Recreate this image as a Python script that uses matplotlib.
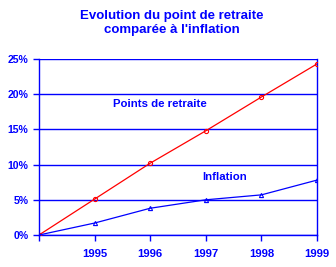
import matplotlib.pyplot as plt

# Données
annees = [1994, 1995, 1996, 1997, 1998, 1999]
etiquettes = ['', '1995', '1996', '1997', '1998', '1999']
points_retraite = [0.0, 5.1, 10.2, 14.8, 19.6, 24.3]
inflation = [0.0, 1.7, 3.8, 5.0, 5.7, 7.8]

bleu = '#0000ff'
rouge = '#ff0000'
plt.rcParams['font.family'] = ['Liberation Sans', 'DejaVu Sans']

fig = plt.figure(figsize=(3.36, 2.67), dpi=100)
ax = fig.add_axes([39 / 336, 1 - 235 / 267, 278 / 336, 176 / 267])

ax.plot(annees, points_retraite, color=rouge, lw=0.9, marker='o', ms=3,
        mfc='none', mec=rouge, mew=0.8, zorder=3)
ax.plot(annees, inflation, color=bleu, lw=0.9, marker='^', ms=3,
        mfc='none', mec=bleu, mew=0.8, zorder=3)

ax.set_xlim(1994, 1999)
ax.set_ylim(0, 25)
ax.set_yticks(range(0, 26, 5))
ax.set_yticklabels([f'{v}%' for v in range(0, 26, 5)])
ax.set_xticks(annees)
ax.set_xticklabels(etiquettes)
ax.yaxis.grid(True, color=bleu, lw=1)
ax.set_axisbelow(True)

ax.spines['top'].set_visible(False)
for s in ['left', 'right', 'bottom']:
    ax.spines[s].set_color(bleu)
    ax.spines[s].set_linewidth(1)

ax.tick_params(colors=bleu, labelcolor=bleu, labelsize=7.6, length=4, width=1)
ax.tick_params(axis='x', pad=6, labelsize=8.2)
for lab in ax.get_xticklabels() + ax.get_yticklabels():
    lab.set_fontweight('bold')

ax.text(1995.33, 18.6, 'Points de retraite', color=bleu, fontsize=8.2,
        fontweight='bold', va='center')
ax.text(1996.93, 8.24, 'Inflation', color=bleu, fontsize=8.2,
        fontweight='bold', va='center')

fig.text(172 / 336, 1 - 23 / 267, 'Evolution du point de retraite\ncomparée à l\'inflation',
         color=bleu, fontsize=9.5, fontweight='bold', ha='center', va='center',
         linespacing=1.25)

fig.savefig('out.png', dpi=100)
